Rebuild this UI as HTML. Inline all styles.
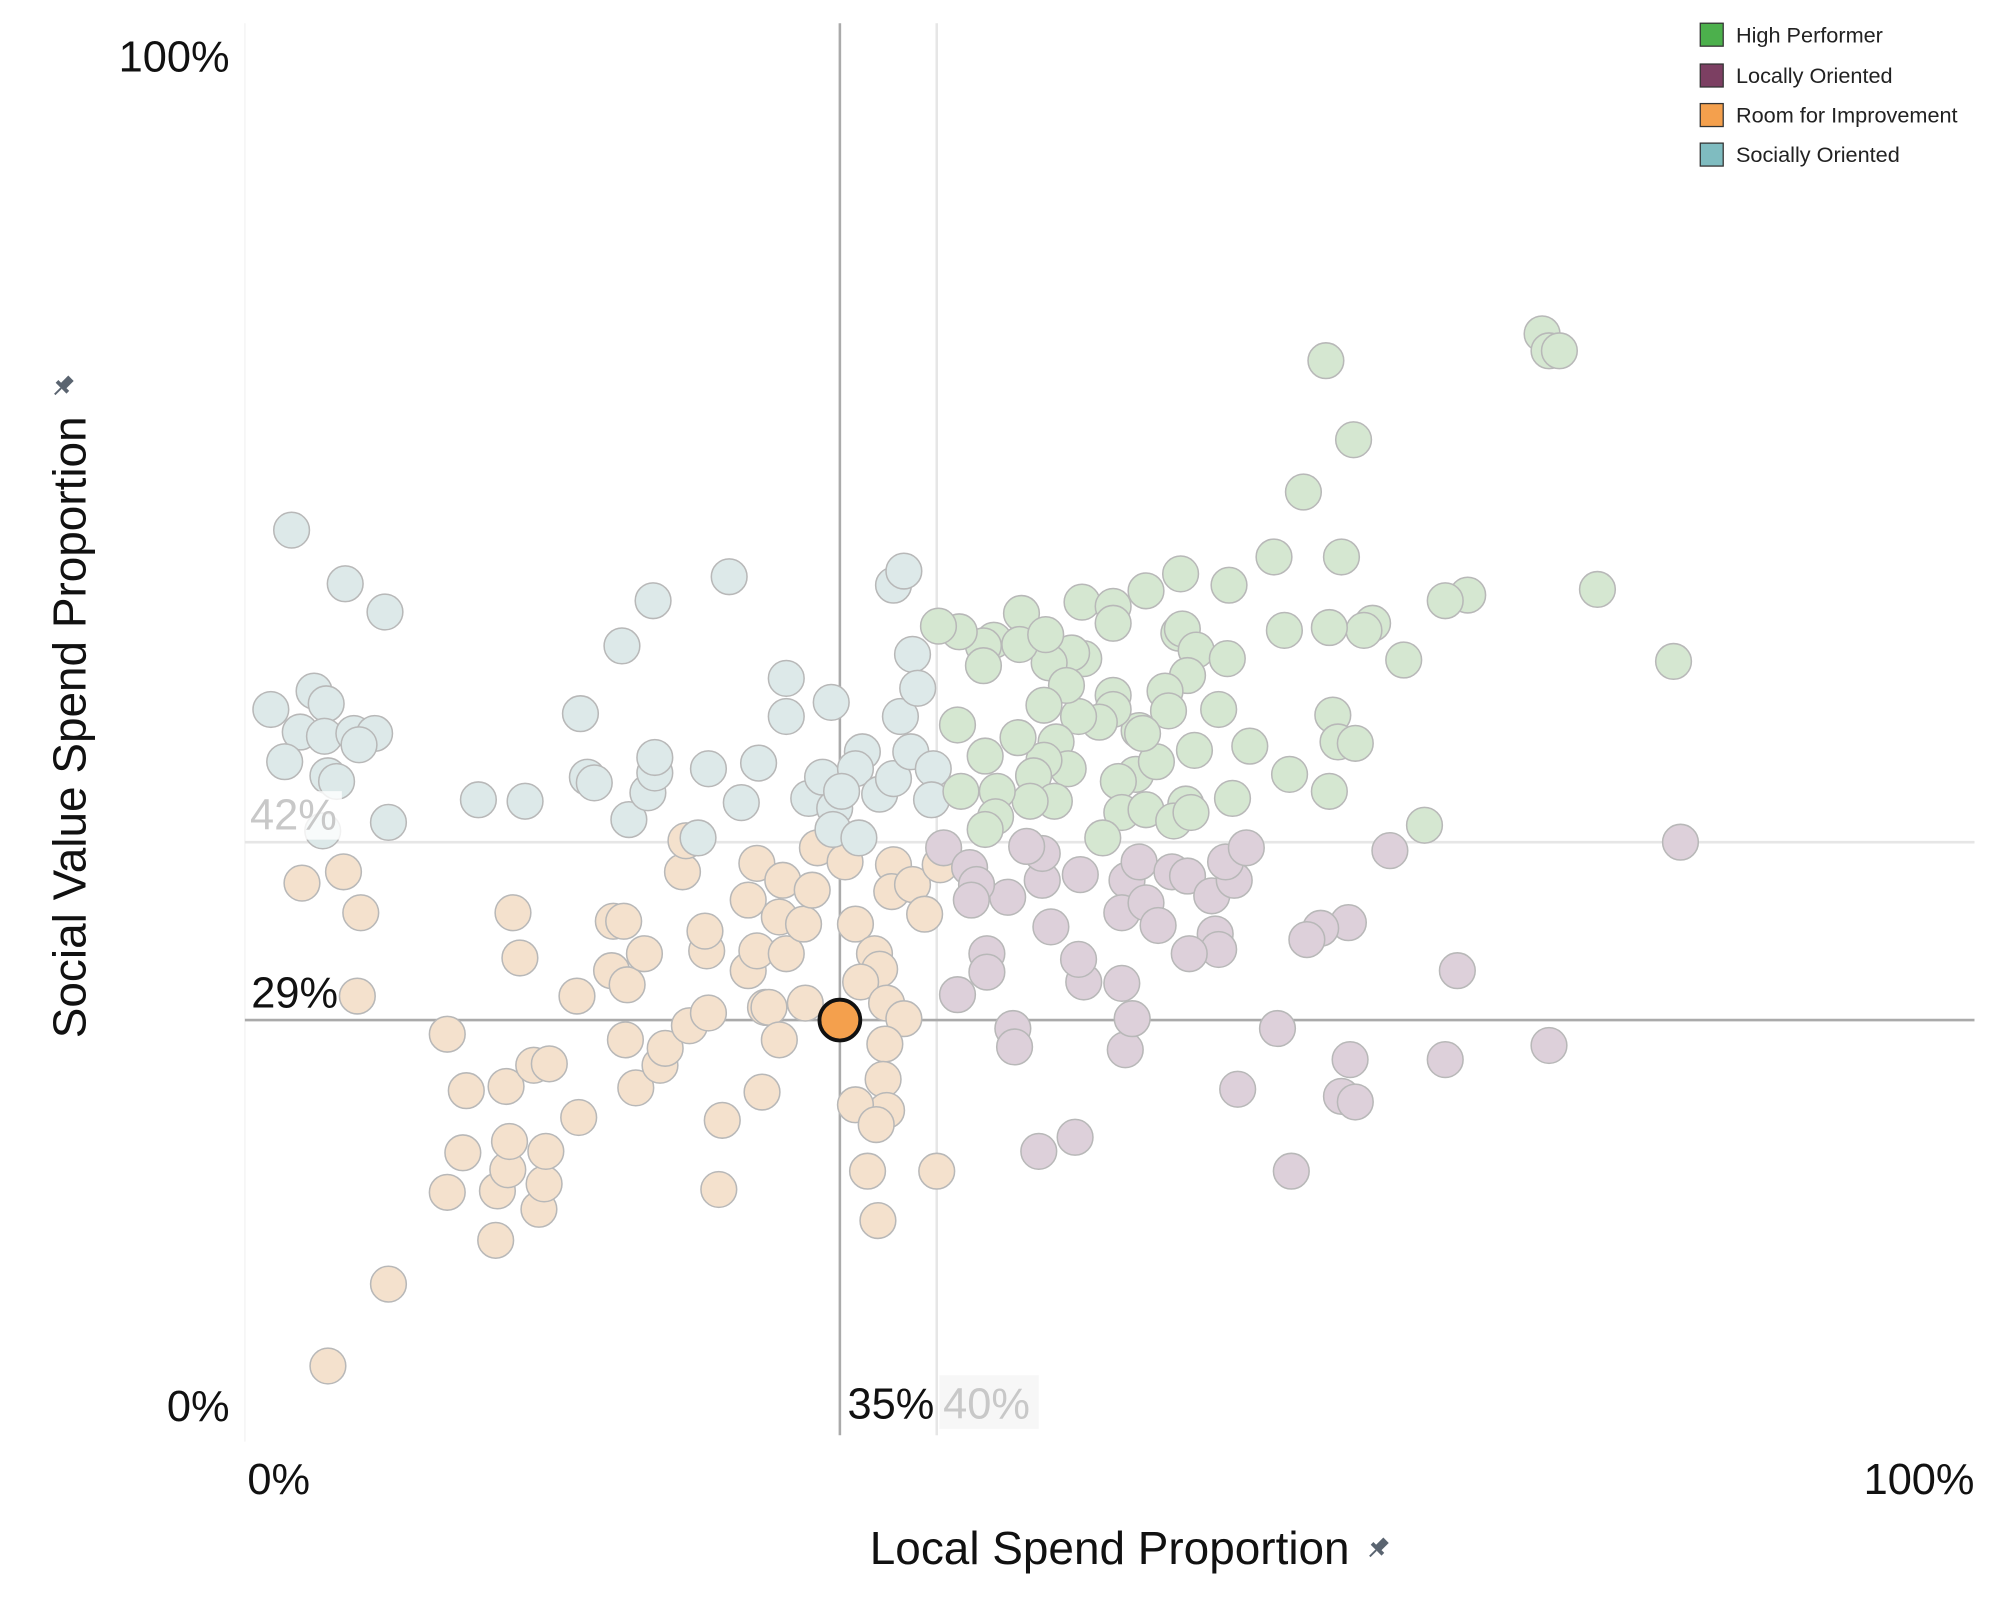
<!DOCTYPE html>
<html><head><meta charset="utf-8"><style>
html,body{margin:0;padding:0;background:#fff;}
svg{display:block;font-family:"Liberation Sans",sans-serif;}
</style></head><body>
<svg id="chart" width="2000" height="1600" viewBox="0 0 1568 1254" xmlns="http://www.w3.org/2000/svg">
<g id="grid"></g>
<g id="points"></g>
<g id="labels"></g>
<g>
  <g><rect x="1333" y="18" width="18" height="18" fill="#4cb04c" stroke="#333" stroke-width="1"/><text x="1361" y="33" font-size="17" fill="#222">High Performer</text></g>
  <g><rect x="1333" y="50" width="18" height="18" fill="#7c3f62" stroke="#333" stroke-width="1"/><text x="1361" y="65" font-size="17" fill="#222">Locally Oriented</text></g>
  <g><rect x="1333" y="81" width="18" height="18" fill="#f4a04d" stroke="#333" stroke-width="1"/><text x="1361" y="96" font-size="17" fill="#222">Room for Improvement</text></g>
  <g><rect x="1333" y="112" width="18" height="18" fill="#7fbcc0" stroke="#333" stroke-width="1"/><text x="1361" y="127" font-size="17" fill="#222">Socially Oriented</text></g>
</g>
<text x="870" y="1226" font-size="36" text-anchor="middle" fill="#111">Local Spend Proportion</text>
<g transform="translate(1081,1213) rotate(45)"><rect x="-3" y="-8" width="6" height="9" fill="#5a6470"/><rect x="-6" y="0" width="12" height="3" fill="#5a6470"/><line x1="0" y1="3" x2="0" y2="10" stroke="#5a6470" stroke-width="1.5"/></g>
<text transform="translate(67,570) rotate(-90)" font-size="36" text-anchor="middle" fill="#111">Social Value Spend Proportion</text>
<g transform="translate(50,302) rotate(45)"><rect x="-3" y="-8" width="6" height="9" fill="#5a6470"/><rect x="-6" y="0" width="12" height="3" fill="#5a6470"/><line x1="0" y1="3" x2="0" y2="10" stroke="#5a6470" stroke-width="1.5"/></g>
</svg>
<script>
const hpLocal=[75.0,75.4,76.0,62.5,64.1,61.2,59.5,63.4,78.2,82.6,70.7,69.4,65.2,64.7,62.7,60.1,67.0,56.9,54.1,52.1,48.4,50.2,50.2,54.0,54.2,55.0,56.8,54.5,53.2,56.3,53.4,58.1,60.4,62.9,63.2,64.2,62.7,68.2,57.1,54.9,51.7,50.2,50.2,49.4,48.2,48.5,47.8,46.5,47.5,46.2,46.9,47.6,46.2,45.6,46.8,45.4,44.7,42.8,44.9,43.3,44.8,46.3,42.7,42.7,41.3,40.1,41.2,41.4,43.5,43.4,42.8,51.5,52.7,50.5,50.7,49.6,52.1,54.4,53.7,54.7,51.9];
const hpSocial=[78.0,76.8,76.8,76.1,70.5,66.8,62.2,62.2,59.9,54.8,59.5,59.1,57.5,57.0,57.2,57.0,54.9,60.2,61.0,59.8,59.0,58.7,57.5,56.8,57.1,55.6,55.0,53.8,52.7,51.4,51.3,48.8,46.8,51.0,49.1,49.0,45.6,43.2,45.1,48.5,49.9,52.4,51.4,50.5,50.9,55.0,55.4,54.7,53.1,51.7,49.1,47.2,47.8,46.7,44.9,44.9,49.4,48.1,58.2,56.3,56.0,56.7,55.9,54.5,56.9,57.3,50.3,45.6,45.6,43.8,42.9,46.8,47.7,46.3,44.1,42.3,44.3,44.7,43.5,44.1,49.7];
const loLocal=[83.0,66.2,70.1,75.4,69.4,63.8,62.2,61.4,63.9,63.4,64.2,59.7,60.5,57.4,48.0,45.9,50.9,51.3,50.7,48.5,48.2,44.4,44.5,41.2,42.9,42.9,46.6,44.1,46.1,46.1,45.2,48.3,51.0,51.7,50.7,52.1,52.8,53.6,54.5,55.9,57.2,56.7,57.9,56.1,56.3,54.6,40.4,41.9,42.3,42.0];
const loSocial=[42.0,41.4,32.9,27.6,26.6,36.3,35.9,35.1,26.6,24.0,23.6,28.8,18.7,24.5,21.1,20.1,27.3,29.5,32.0,32.1,33.7,28.8,27.5,31.2,34.1,32.8,36.0,38.1,39.3,41.2,41.7,39.7,39.3,40.6,37.0,37.7,36.1,39.9,39.6,38.2,39.3,40.6,41.6,35.5,34.4,34.1,41.6,40.2,39.0,37.9];
const riLocal=[4.8,8.3,14.5,11.7,14.6,17.0,17.3,15.2,12.6,15.3,17.4,19.3,12.8,15.1,16.7,17.6,11.7,6.5,19.2,15.9,15.5,6.7,5.7,3.3,21.2,22.1,22.0,22.6,24.0,24.3,23.1,21.3,21.9,25.7,26.8,27.6,27.4,26.7,26.6,25.3,25.5,29.1,29.6,29.1,29.6,31.1,30.9,31.3,32.3,32.8,30.1,30.3,30.9,29.9,32.4,33.1,34.7,35.3,36.4,36.7,35.6,37.1,38.1,37.0,36.9,37.1,35.3,36.5,36.0,36.6,40.0,37.5,37.4,38.6,39.3,40.2];
const riSocial=[4.9,10.7,13.8,17.2,17.3,16.0,17.8,18.8,20.0,20.8,20.1,22.5,24.4,24.7,26.2,26.3,28.4,31.1,31.1,33.8,37.0,37.0,39.9,39.1,32.9,31.9,28.0,24.6,26.2,27.4,34.1,36.4,36.4,29.0,29.9,22.3,17.4,34.3,35.7,39.9,42.1,32.9,34.3,37.9,40.5,39.3,36.7,34.1,36.2,38.6,30.3,30.3,28.0,24.3,30.6,41.6,40.6,36.2,34.1,33.0,32.1,30.6,29.5,27.7,25.2,23.0,23.4,22.0,18.7,15.2,18.7,40.4,38.5,39.0,36.9,40.4];
const soLocal=[2.7,5.8,8.1,1.5,4.0,4.7,3.2,4.6,6.3,7.5,6.6,2.3,4.8,5.3,4.5,8.3,13.5,16.2,19.4,19.8,20.2,21.8,23.6,22.2,23.3,23.7,23.7,26.2,26.8,28.0,28.7,29.7,31.3,31.3,33.9,32.6,33.4,34.1,34.0,35.7,35.3,36.7,37.5,37.9,38.5,38.6,38.9,37.5,38.1,39.8,39.7,34.5,35.5];
const soSocial=[64.1,60.3,58.3,51.4,52.7,51.8,49.8,49.5,49.7,49.7,48.9,47.7,46.7,46.3,42.8,43.4,45.0,44.9,51.1,46.6,46.2,55.9,59.1,43.6,45.5,46.9,48.0,42.3,47.2,60.8,44.8,47.6,53.6,50.9,51.9,45.1,46.6,44.4,42.9,48.4,47.2,45.4,46.5,50.9,48.4,55.3,52.9,60.2,61.2,47.2,45.0,45.6,42.3];
const selectedPoint=[34.4,29.4];
const medianX=34.4, medianY=29.4, avgX=40, avgY=42;
const xTickLabels=["0%","100%"];
const yTickLabels=["0%","100%"];

const L=192,R=1548,T=18,B=1125;
const sx=v=>L+(R-L)*v/100;
const sy=v=>B-(B-T)*v/100;
const NS="http://www.w3.org/2000/svg";
function mk(tag,attrs,parent){const e=document.createElementNS(NS,tag);for(const k in attrs)e.setAttribute(k,attrs[k]);parent.appendChild(e);return e;}
const grid=document.getElementById('grid'),pts=document.getElementById('points'),lab=document.getElementById('labels');

let ln;
ln=mk('line',{x1:L,x2:L,y1:T,y2:B+5,stroke:'#f2f2f2','stroke-width':1},grid);

ln=mk('line',{x1:sx(avgX),x2:sx(avgX),y1:T,y2:B,stroke:'#e6e6e6','stroke-width':2},grid);

ln=mk('line',{x1:L,x2:R,y1:sy(avgY),y2:sy(avgY),stroke:'#e6e6e6','stroke-width':2},grid);

ln=mk('line',{x1:sx(medianX),x2:sx(medianX),y1:T,y2:B,stroke:'#aaa','stroke-width':2},grid);

ln=mk('line',{x1:L,x2:R,y1:sy(medianY),y2:sy(medianY),stroke:'#aaa','stroke-width':2},grid);


function series(xs,ys,fill,name){
  for(let i=0;i<xs.length;i++){
    const c=mk('circle',{cx:sx(xs[i]),cy:sy(ys[i]),r:14,fill:fill,stroke:'#b8b8b8','stroke-width':1.2},pts);
    
    
  }
}
series(riLocal,riSocial,'#f4e1cd','point-room-for-improvement');
series(soLocal,soSocial,'#dde9e9','point-socially-oriented');
series(loLocal,loSocial,'#ddd0da','point-locally-oriented');
series(hpLocal,hpSocial,'#d5e7d1','point-high-performer');
const sel=mk('circle',{cx:sx(selectedPoint[0]),cy:sy(selectedPoint[1]),r:16,fill:'#f4a04d',stroke:'#111','stroke-width':3},pts);



function txt(x,y,s,opts,name){const t=mk('text',Object.assign({x:x,y:y,'font-size':34,fill:'#111'},opts||{}),lab);t.textContent=s;return t;}
txt(180,56,yTickLabels[1],{'text-anchor':'end'},'y-tick-100');
txt(180,1114,yTickLabels[0],{'text-anchor':'end'},'y-tick-0');
txt(194,1171,xTickLabels[0],{},'x-tick-0');
txt(1548,1171,xTickLabels[1],{'text-anchor':'end'},'x-tick-100');
let bg=mk('rect',{x:sx(0)+2,y:sy(avgY)-40,width:74,height:38,fill:'#fff','fill-opacity':0.8},lab);

txt(sx(0)+4,sy(avgY)-10,Math.round(avgY)+'%',{fill:'#c8c8c8'},'average-y-label');
txt(sx(0)+5,sy(medianY)-10,Math.round(medianY)+'%',{},'median-y-label');
txt(sx(medianX)+6,1112,'35%',{},'median-x-label');
bg=mk('rect',{x:sx(avgX)+2,y:1078,width:78,height:42,fill:'#f7f7f7'},lab);

txt(sx(avgX)+5,1112,Math.round(avgX)+'%',{fill:'#c8c8c8'},'average-x-label');
</script>
</body></html>
